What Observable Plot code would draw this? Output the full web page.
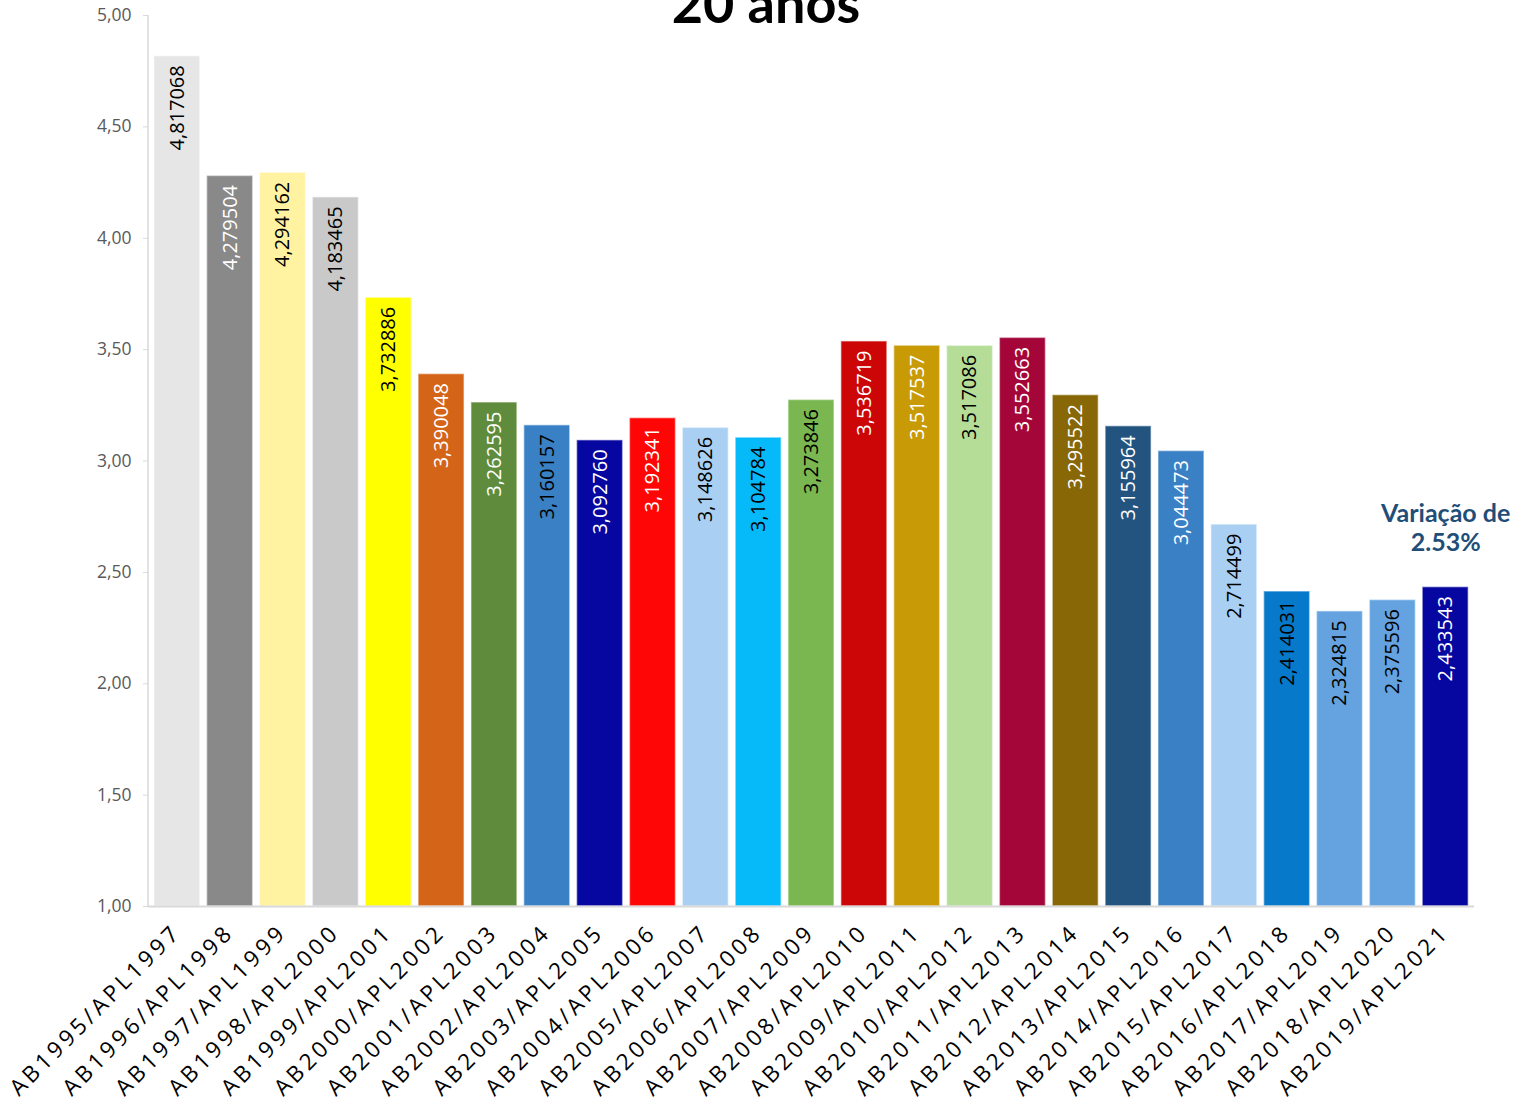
<!DOCTYPE html>
<html>
<head>
<meta charset="utf-8">
<script src="https://cdn.jsdelivr.net/npm/d3@7"></script>
<script src="https://cdn.jsdelivr.net/npm/@observablehq/plot@0.6"></script>
<style>
  html, body { margin: 0; padding: 0; background: #fff; overflow: hidden; }
  #wrap { position: relative; width: 1519px; height: 1104px; }
  #title { position: absolute; left: 0; width: 1532px; top: -24px; text-align: center;
           font-family: Lato, "Open Sans", sans-serif; font-weight: 700; font-size: 54px; line-height: 54px; color: #000; }
  .chart g[aria-label="x-axis tick label"] text { letter-spacing: 3.7px; }
  .chart g[aria-label="bar-labels"] text { letter-spacing: 0.9px; }
</style>
</head>
<body>
<div id="wrap">
  <div id="chart"></div>
  <div id="title">20 anos</div>
</div>
<script>
const categories = [
  "AB1995/APL1997","AB1996/APL1998","AB1997/APL1999","AB1998/APL2000","AB1999/APL2001",
  "AB2000/APL2002","AB2001/APL2003","AB2002/APL2004","AB2003/APL2005","AB2004/APL2006",
  "AB2005/APL2007","AB2006/APL2008","AB2007/APL2009","AB2008/APL2010","AB2009/APL2011",
  "AB2010/APL2012","AB2011/APL2013","AB2012/APL2014","AB2013/APL2015","AB2014/APL2016",
  "AB2015/APL2017","AB2016/APL2018","AB2017/APL2019","AB2018/APL2020","AB2019/APL2021"
];
const values = [
  4.817068, 4.279504, 4.294162, 4.183465, 3.732886,
  3.390048, 3.262595, 3.160157, 3.092760, 3.192341,
  3.148626, 3.104784, 3.273846, 3.536719, 3.517537,
  3.517086, 3.552663, 3.295522, 3.155964, 3.044473,
  2.714499, 2.414031, 2.324815, 2.375596, 2.433543
];
const barColors = [
  "#E6E6E6","#898989","#FFF2A1","#C9C9C9","#FFFF00",
  "#D46417","#5E8C3C","#3A80C4","#0606A0","#FF0606",
  "#A9CFF3","#06BAFA","#7AB750","#CC0606","#C89B06",
  "#B5DD98","#A4063A","#876706","#23537F","#3A80C4",
  "#A9CFF3","#0679CB","#64A3DF","#64A3DF","#0606A0"
];
const labelInk = [
  "#000","#fff","#000","#000","#000",
  "#fff","#fff","#000","#fff","#fff",
  "#000","#000","#000","#fff","#fff",
  "#000","#fff","#fff","#fff","#fff",
  "#000","#000","#000","#000","#fff"
];
const yTicks = [1, 1.5, 2, 2.5, 3, 3.5, 4, 4.5, 5];
const annotationText = "Variação de\n2.53%";

const data = categories.map((c, i) => ({cat: c, value: values[i], fill: barColors[i], ink: labelInk[i]}));
const last = [data[data.length - 1]];
const fmt = v => v.toFixed(6).replace(".", ",");
const fmtTick = v => v.toFixed(2).replace(".", ",");

const axisLine = (index, scales, values, dims) => {
  const g = d3.create("svg:line")
    .attr("x1", dims.marginLeft).attr("x2", dims.marginLeft)
    .attr("y1", scales.y(5)).attr("y2", scales.y(1))
    .attr("stroke", "#d9d9d9").attr("stroke-width", 1.5);
  return g.node();
};

const chart = Plot.plot({
  width: 1519,
  height: 1104,
  marginLeft: 148,
  marginRight: 45,
  marginTop: 15,
  marginBottom: 198,
  className: "chart",
  style: {fontFamily: "'Open Sans', sans-serif", background: "#fff"},
  color: {type: "identity"},
  x: {domain: categories, paddingInner: 0.13, paddingOuter: 0.11, round: false, label: null},
  y: {domain: [1, 5], label: null},
  marks: [
    Plot.barY(data, {x: "cat", y1: 1, y2: "value", fill: "fill", stroke: "#ffffff", strokeOpacity: 0.45, strokeWidth: 1.5}),
    axisLine,
    Plot.ruleY([1], {stroke: "#d9d9d9", strokeWidth: 2}),
    Plot.axisY({ticks: yTicks, tickFormat: fmtTick, tickSize: 5, tickPadding: 12, fontSize: 17.5, fill: "#595959", stroke: "#d9d9d9", label: null}),
    Plot.axisX({tickRotate: -45, tickSize: 0, tickPadding: 22, fontSize: 22.5, fill: "#000", label: null}),
    Plot.text(data, {x: "cat", y: "value", text: d => fmt(d.value), rotate: -90, textAnchor: "end", dy: 9, fill: "ink", fontSize: 20, ariaLabel: "bar-labels"}),
    Plot.text(last, {x: "cat", y: "value", text: () => annotationText, fill: "#1F4E79", fontWeight: "bold", fontSize: 25, lineHeight: 1.18, lineAnchor: "bottom", dy: -36, fontFamily: "Lato, 'Open Sans', sans-serif"})
  ]
});
document.getElementById("chart").appendChild(chart);
</script>
</body>
</html>
